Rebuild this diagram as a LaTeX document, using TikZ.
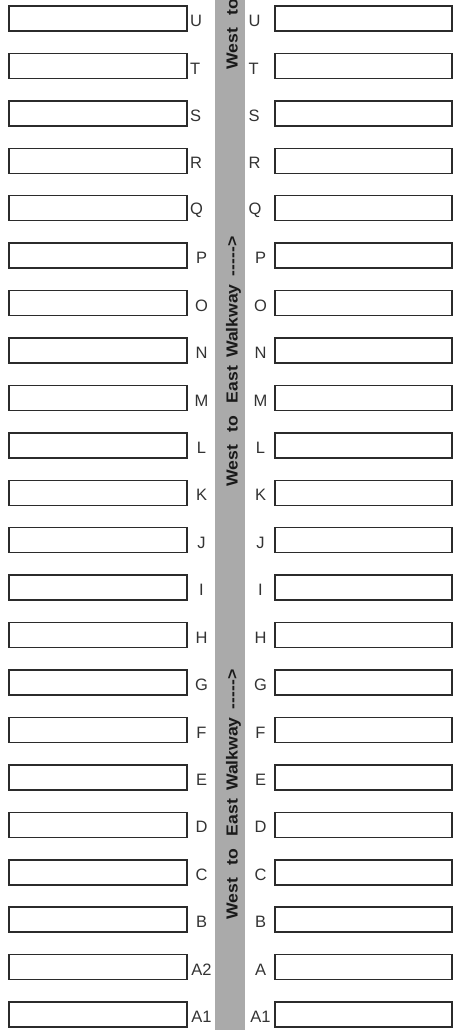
\documentclass[tikz,border=0pt]{standalone}
\usepackage{fontspec}
\setmainfont{Liberation Sans}
\definecolor{boxc}{HTML}{2B2B2B}
\definecolor{lblc}{HTML}{333333}
\definecolor{barc}{HTML}{AAAAAA}
\definecolor{walkc}{HTML}{1A1A1A}
\newcommand{\walktext}{\scalebox{1.1}[1]{West\hspace{7pt} to\hspace{7pt} East\hspace{3pt} Walkway\hspace{3pt} -{}-{}-{}-{}->}}
\begin{document}
\begin{tikzpicture}[x=1pt,y=-1pt,
  stall/.style={draw=boxc,line width=1.5pt,fill=white,minimum height=25pt,inner sep=0pt},
  lstall/.style={stall,minimum width=178pt},
  rstall/.style={stall,minimum width=177pt},
  lbl/.style={text=lblc,font=\fontsize{16.5}{16.5}\selectfont,inner sep=0pt},
  walk/.style={rotate=90,anchor=base west,inner sep=0pt,text=walkc,font=\bfseries\fontsize{16}{16}\selectfont}]
\useasboundingbox (0,0) rectangle (453,1030);
\fill[barc] (215,0) rectangle (245,1030);
% rows
\foreach \l/\r [count=\i from 0] in {U/U,T/T,S/S,R/R,Q/Q,P/P,O/O,N/N,M/M,L/L,K/K,J/J,I/I,H/H,G/G,F/F,E/E,D/D,C/C,B/B,A2/A,A1/A1}{
  \pgfmathsetmacro\yc{18.5+47.43*\i}
  \node[lstall] (L\i) at (98,\yc) {};
  \node[rstall] (R\i) at (363.5,\yc) {};
  \ifnum\i<5
    \node[lbl,anchor=west] (LL\i) at (190,\yc+2.5) {\l};
    \node[lbl,anchor=west] (RL\i) at (248.5,\yc+2.5) {\r};
  \else
    \node[lbl] (LL\i) at (201.5,\yc+2.5) {\l};
    \node[lbl] (RL\i) at (260.5,\yc+2.5) {\r};
  \fi
}
\node[walk] (w1) at (237.5,70) {\walktext};
\node[walk] (w2) at (237.5,487) {\walktext};
\node[walk] (w3) at (237.5,920) {\walktext};
\end{tikzpicture}
\end{document}
